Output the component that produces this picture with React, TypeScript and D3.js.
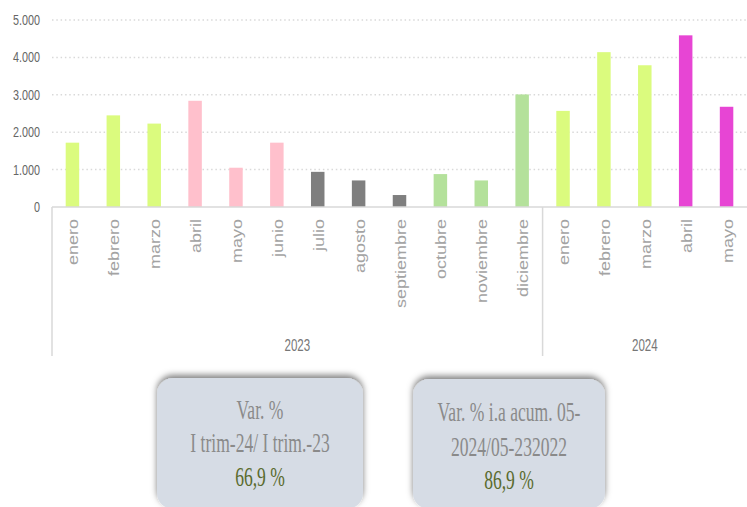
import React from "react";
import * as d3 from "d3";

const months = ["enero","febrero","marzo","abril","mayo","junio","julio","agosto","septiembre","octubre","noviembre","diciembre","enero","febrero","marzo","abril","mayo"];
const years = ["2023","2023","2023","2023","2023","2023","2023","2023","2023","2023","2023","2023","2024","2024","2024","2024","2024"];
const values = [1720,2450,2230,2840,1050,1720,940,710,320,880,710,3010,2570,4140,3790,4590,2680];
const groups = ["2023-T1","2023-T1","2023-T1","2023-T2","2023-T2","2023-T2","2023-T3","2023-T3","2023-T3","2023-T4","2023-T4","2023-T4","2024-T1","2024-T1","2024-T1","2024-T2","2024-T2"];
const yTicks = [0,1000,2000,3000,4000,5000];
const box1Lines = ["Var. %","I trim-24/ I trim.-23","66,9 %"];
const box2Lines = ["Var. % i.a acum. 05-","2024/05-232022","86,9 %"];

const groupColor: Record<string,string> = {
  "2023-T1": "#dbfb7e",
  "2023-T2": "#ffc0cc",
  "2023-T3": "#7f7f7f",
  "2023-T4": "#b4e19b",
  "2024-T1": "#dbfb7e",
  "2024-T2": "#e745d4",
};

const W = 747, H = 507;
const left = 52, right = 747, top = 20, base = 207, catBottom = 356;

export default function App() {
  const x = d3.scaleBand<number>().domain(d3.range(months.length)).range([left, right]).padding(0);
  const y = d3.scaleLinear().domain([0, 5000]).range([base, top]);
  const bw = x.bandwidth() * 0.33;
  const fmt = (v: number) => d3.format(",")(v).replace(/,/g, ".");
  const yearNames = Array.from(new Set(years));
  const yearSpans = yearNames.map((yr) => {
    const idx = years.map((v, i) => (v === yr ? i : -1)).filter((i) => i >= 0);
    const x0 = x(idx[0])!;
    const x1 = x(idx[idx.length - 1])! + x.bandwidth();
    return { yr, x0, x1 };
  });
  const textGray = "#8a8a8a";
  const green = "#5a6b2e";
  const serif = "'Liberation Serif', serif";
  const sans = "'Liberation Sans', Arial, sans-serif";

  const renderBox = (lines: string[], bx0: number, bx1: number, by0: number, baselines: number[]) => {
    const cx = (bx0 + bx1) / 2;
    return (
      <g>
        <rect x={bx0} y={by0} width={bx1 - bx0} height={H - by0 + 2} rx={16} ry={16} fill="#d6dce5" filter="url(#topShadow)" />
        {lines.map((t, i) => (
          <g key={i} transform={`translate(${cx},${baselines[i]}) scale(0.65,1)`}>
            <text textAnchor="middle" fontFamily={serif} fontSize={27} fill={i === 2 ? green : textGray}>{t}</text>
          </g>
        ))}
      </g>
    );
  };

  return (
    <svg width={W} height={H} style={{ position: "absolute", left: 0, top: 0, background: "#fff" }}>
      <defs>
        <filter id="topShadow" x="-10%" y="-20%" width="120%" height="140%">
          <feDropShadow dx="0" dy="-3" stdDeviation="3" floodColor="#000" floodOpacity="0.5" />
        </filter>
      </defs>
      {yTicks.filter((t) => t > 0).map((t) => (
        <line key={t} x1={left} x2={right} y1={y(t)} y2={y(t)} stroke="#d9d9d9" strokeWidth={1.5} strokeDasharray="1.5 2.8" />
      ))}
      {yTicks.map((t) => (
        <g key={t} transform={`translate(40,${y(t) + 5}) scale(0.72,1)`}>
          <text textAnchor="end" fontFamily={sans} fontSize={15} fill="#666">{fmt(t)}</text>
        </g>
      ))}
      {values.map((v, i) => (
        <rect key={i} x={x(i)! + x.bandwidth() / 2 - bw / 2} y={y(v)} width={bw} height={base - y(v)} fill={groupColor[groups[i]]} />
      ))}
      <line x1={left} x2={right} y1={base} y2={base} stroke="#d9d9d9" strokeWidth={1.5} />
      {yearSpans.map((s, i) => (
        <line key={i} x1={s.x0} x2={s.x0} y1={base} y2={catBottom} stroke="#d9d9d9" strokeWidth={1.5} />
      ))}
      {months.map((m, i) => (
        <g key={i} transform={`translate(${x(i)! + x.bandwidth() / 2 + 6},219) rotate(-90)`}>
          <text textAnchor="end" fontFamily={sans} fontSize={18} fill="#a3a3a3" transform="scale(1,0.8)">{m}</text>
        </g>
      ))}
      {yearSpans.map((s, i) => (
        <g key={i} transform={`translate(${(s.x0 + s.x1) / 2},351) scale(0.68,1)`}>
          <text textAnchor="middle" fontFamily={sans} fontSize={17} fill="#777">{s.yr}</text>
        </g>
      ))}
      {renderBox(box1Lines, 157, 363, 378, [419, 452, 486])}
      {renderBox(box2Lines, 413, 605, 379, [421, 456, 489])}
    </svg>
  );
}
